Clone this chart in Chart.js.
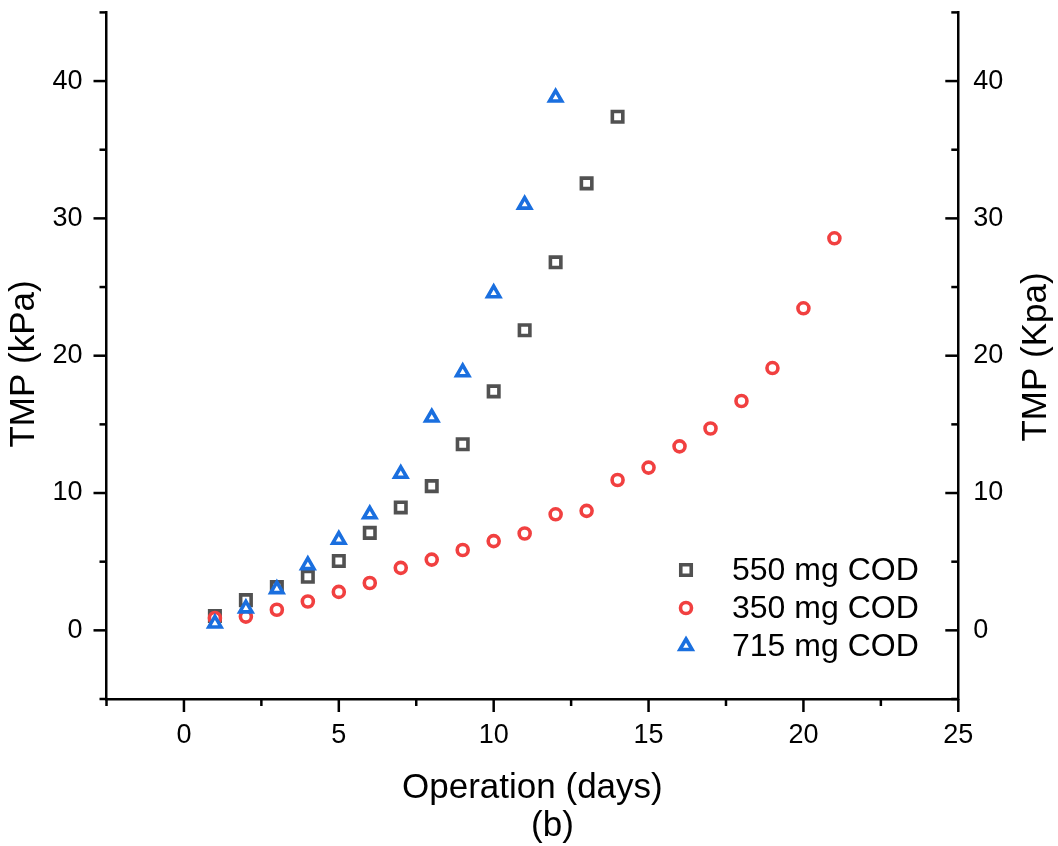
<!DOCTYPE html>
<html>
<head>
<meta charset="utf-8">
<script src="https://cdn.jsdelivr.net/npm/chart.js@4.4.1/dist/chart.umd.min.js"></script>
<style>
  html, body { margin: 0; padding: 0; background: #ffffff; }
  #wrap { width: 1058px; height: 846px; }
</style>
</head>
<body>
<div id="wrap"><canvas id="c" width="1058" height="846"></canvas></div>
<script>
// Operation day of each measurement, per feed strength
const days550 = [1, 2, 3, 4, 5, 6, 7, 8, 9, 10, 11, 12, 13, 14];
const days350 = [1, 2, 3, 4, 5, 6, 7, 8, 9, 10, 11, 12, 13, 14, 15, 16, 17, 18, 19, 20, 21];
const days715 = [1, 2, 3, 4, 5, 6, 7, 8, 9, 10, 11, 12];

// Transmembrane pressure (kPa)
const tmp550 = [1.05, 2.2, 3.15, 3.9, 5.05, 7.1, 8.95, 10.5, 13.55, 17.4, 21.85, 26.8, 32.55, 37.4];
const tmp350 = [0.9, 1.0, 1.5, 2.1, 2.8, 3.45, 4.55, 5.15, 5.85, 6.5, 7.05, 8.45, 8.7, 10.95,
                11.85, 13.4, 14.7, 16.7, 19.1, 23.45, 28.55];
const tmp715 = [0.5, 1.6, 3.0, 4.75, 6.6, 8.45, 11.4, 15.5, 18.8, 24.55, 31.0, 38.8];

const seriesNames = ['550 mg COD', '350 mg COD', '715 mg COD'];

// Axis tick values (major are labelled, minor are bare marks)
const xMajorTicks = [0, 5, 10, 15, 20, 25];
const xMinorTicks = [-2.5, 2.5, 7.5, 12.5, 17.5, 22.5];
const yMajorTicks = [0, 10, 20, 30, 40];
const yMinorTicks = [-5, 5, 15, 25, 35, 45];

const FONT = "'Liberation Sans', Arial, Helvetica, sans-serif";
const COLORS = ['#515151', '#F14040', '#1A6FDF'];
const STYLES = [
  { pointStyle: 'rect', radius: 7.4, borderWidth: 3.6 },
  { pointStyle: 'circle', radius: 5.5, borderWidth: 3.6 },
  { pointStyle: 'triangle', radius: 7.0, borderWidth: 3.6 }
];

Chart.defaults.font.family = FONT;
Chart.defaults.color = '#000000';

function toPoints(xs, ys) {
  return xs.map((d, i) => ({ x: d, y: ys[i] }));
}

function fixedTicks(values) {
  return scale => { scale.ticks = values.map(v => ({ value: v })); };
}

function makeDataset(i, xs, ys, order) {
  return {
    label: seriesNames[i],
    data: toPoints(xs, ys),
    showLine: false,
    order: order,
    pointStyle: STYLES[i].pointStyle,
    pointRadius: STYLES[i].radius,
    pointHoverRadius: STYLES[i].radius,
    pointBorderWidth: STYLES[i].borderWidth,
    pointBorderColor: COLORS[i],
    pointBackgroundColor: '#ffffff',
    borderColor: COLORS[i],
    backgroundColor: '#ffffff'
  };
}

// Shape drawing for the legend keys, same geometry as Chart.js point styles
function drawKey(ctx, i, x, y) {
  const s = STYLES[i];
  const r = s.radius;
  ctx.save();
  ctx.strokeStyle = COLORS[i];
  ctx.fillStyle = '#ffffff';
  ctx.lineWidth = s.borderWidth;
  ctx.beginPath();
  if (s.pointStyle === 'rect') {
    const h = Math.SQRT1_2 * r;
    ctx.rect(x - h, y - h, 2 * h, 2 * h);
  } else if (s.pointStyle === 'circle') {
    ctx.arc(x, y, r, 0, Math.PI * 2);
  } else {
    let a = 0;
    ctx.moveTo(x + Math.sin(a) * r, y - Math.cos(a) * r);
    a += 2 * Math.PI / 3;
    ctx.lineTo(x + Math.sin(a) * r, y - Math.cos(a) * r);
    a += 2 * Math.PI / 3;
    ctx.lineTo(x + Math.sin(a) * r, y - Math.cos(a) * r);
    ctx.closePath();
  }
  ctx.fill();
  ctx.stroke();
  ctx.restore();
}

// Tick marks: outward on the left and bottom axes, inward on the right axis
const axisMarks = {
  id: 'axisMarks',
  afterDraw(chart) {
    const { ctx, chartArea, scales } = chart;
    const xs = scales.x, ys = scales.y;
    const L = chartArea.left, R = chartArea.right, B = chartArea.bottom;
    const MAJOR = 13, MINOR = 7;
    ctx.save();
    ctx.strokeStyle = '#000000';
    ctx.lineWidth = 2.5;
    ctx.lineCap = 'butt';
    const seg = (x1, y1, x2, y2) => {
      ctx.beginPath(); ctx.moveTo(x1, y1); ctx.lineTo(x2, y2); ctx.stroke();
    };
    xMajorTicks.forEach(v => { const p = xs.getPixelForValue(v); seg(p, B, p, B + MAJOR); });
    xMinorTicks.forEach(v => { const p = xs.getPixelForValue(v); seg(p, B, p, B + MINOR); });
    yMajorTicks.forEach(v => {
      const p = ys.getPixelForValue(v);
      seg(L - MAJOR, p, L, p);
      seg(R, p, R - MAJOR, p);
    });
    yMinorTicks.forEach(v => {
      const p = ys.getPixelForValue(v);
      seg(L - MINOR, p, L, p);
      seg(R, p, R - MINOR, p);
    });
    ctx.restore();
  }
};

// Vertical axis titles (both read bottom-to-top), panel caption and the in-plot legend
const annotations = {
  id: 'annotations',
  afterDraw(chart) {
    const { ctx, chartArea } = chart;
    ctx.save();
    ctx.fillStyle = '#000000';
    ctx.textAlign = 'center';
    ctx.textBaseline = 'middle';
    ctx.font = `35px ${FONT}`;
    const vertical = (text, x, y) => {
      ctx.save();
      ctx.translate(x, y);
      ctx.rotate(-Math.PI / 2);
      ctx.fillText(text, 0, 0);
      ctx.restore();
    };
    vertical('TMP (kPa)', 24, 364);
    vertical('TMP (Kpa)', 1036, 357);

    const cx = (chartArea.left + chartArea.right) / 2;
    ctx.fillText('(b)', cx + 20, 826);

    ctx.font = `32px ${FONT}`;
    ctx.textAlign = 'left';
    const rows = [570, 608, 646];
    seriesNames.forEach((name, i) => {
      drawKey(ctx, i, 686, rows[i]);
      ctx.fillText(name, 732, rows[i] + 1);
    });
    ctx.restore();
  }
};

new Chart(document.getElementById('c'), {
  type: 'scatter',
  data: {
    datasets: [
      makeDataset(0, days550, tmp550, 3),
      makeDataset(1, days350, tmp350, 2),
      makeDataset(2, days715, tmp715, 1)
    ]
  },
  options: {
    responsive: false,
    animation: false,
    layout: { padding: { top: 12.4, left: 0, right: 0, bottom: 0 } },
    plugins: {
      legend: { display: false },
      tooltip: { enabled: false }
    },
    scales: {
      x: {
        type: 'linear',
        position: 'bottom',
        min: -2.5,
        max: 25,
        afterBuildTicks: fixedTicks(xMajorTicks),
        afterFit: s => { s.height = 147; s.paddingLeft = 0; s.paddingRight = 0; },
        grid: { display: false, drawTicks: false },
        border: { display: true, color: '#000000', width: 2.5 },
        ticks: { font: { size: 27 }, color: '#000000', padding: 20, maxRotation: 0, autoSkip: false },
        title: {
          display: true,
          text: 'Operation (days)',
          font: { size: 35 },
          color: '#000000',
          padding: { top: 0, bottom: 37 }
        }
      },
      y: {
        type: 'linear',
        position: 'left',
        min: -5,
        max: 45,
        afterBuildTicks: fixedTicks(yMajorTicks),
        afterFit: s => { s.width = 106.5; s.paddingTop = 0; s.paddingBottom = 0; },
        grid: { display: false, drawTicks: false },
        border: { display: true, color: '#000000', width: 2.5 },
        ticks: { font: { size: 27 }, color: '#000000', padding: 24, autoSkip: false }
      },
      y2: {
        type: 'linear',
        position: 'right',
        min: -5,
        max: 45,
        afterBuildTicks: fixedTicks(yMajorTicks),
        afterFit: s => { s.width = 99.7; s.paddingTop = 0; s.paddingBottom = 0; },
        grid: { display: false, drawTicks: false },
        border: { display: true, color: '#000000', width: 2.5 },
        ticks: { font: { size: 27 }, color: '#000000', padding: 15, autoSkip: false }
      }
    }
  },
  plugins: [axisMarks, annotations]
});
</script>
</body>
</html>
